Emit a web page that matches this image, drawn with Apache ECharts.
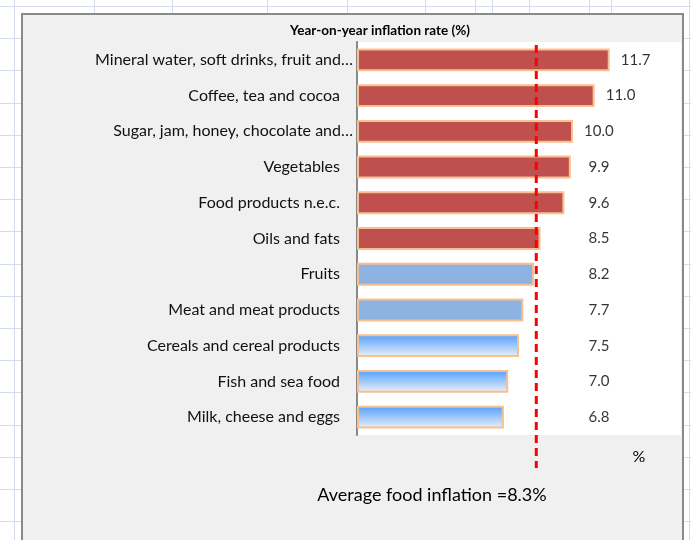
<!DOCTYPE html>
<html>
<head>
<meta charset="utf-8">
<script src="https://cdn.jsdelivr.net/npm/echarts@6/dist/echarts.min.js"></script>
<style>
html,body{margin:0;padding:0;background:#fff;}
#c{width:691px;height:540px;}
</style>
</head>
<body>
<div id="c"></div>
<script>
// ---- data ----
const categories = [
  "Mineral water, soft drinks, fruit and…",
  "Coffee, tea and cocoa",
  "Sugar, jam, honey, chocolate and…",
  "Vegetables",
  "Food products n.e.c.",
  "Oils and fats",
  "Fruits",
  "Meat and meat products",
  "Cereals and cereal products",
  "Fish and sea food",
  "Milk, cheese and eggs"
];
const values = [11.7, 11.0, 10.0, 9.9, 9.6, 8.5, 8.2, 7.7, 7.5, 7.0, 6.8];
const averageInflation = 8.3;
const chartTitle = "Year-on-year inflation rate (%)";
const unitLabel = "%";
const averageLabel = "Average food inflation =8.3%";

// ---- styles ----
const FONT = "Lato, 'Open Sans', sans-serif";
const RED = "#C0504D";
const FLAT_BLUE = "#8DB3E2";
const GRAD_BLUE = {type:'linear', x:0, y:0, x2:0, y2:1,
  colorStops:[{offset:0,color:'#4f9fff'},{offset:1,color:'#eef1f6'}]};
function barColor(i){
  if (i <= 5) return RED;
  if (i <= 7) return FLAT_BLUE;
  return GRAD_BLUE;
}

const chart = echarts.init(document.getElementById('c'), null, {renderer:'canvas'});

// spreadsheet decoration
const deco = [];
const vx = [14, 94, 172, 267, 347, 425, 475, 492, 529, 589, 611, 689];
vx.forEach(x => deco.push({type:'line', z:-20, shape:{x1:x+0.5, y1:0, x2:x+0.5, y2:540},
  style:{stroke:'#d4dbea', lineWidth:1}}));
for (let y = 6; y < 540; y += 32.2) {
  deco.push({type:'line', z:-20, shape:{x1:0, y1:Math.round(y)+0.5, x2:691, y2:Math.round(y)+0.5},
    style:{stroke:'#d4dbea', lineWidth:1}});
}
deco.push({type:'rect', z:-10, shape:{x:22, y:14, width:661, height:540},
  style:{fill:'#f0f0f0', stroke:'#8a8a8a', lineWidth:2}});
deco.push({type:'text', z:10, x:380, y:31, style:{text:chartTitle, font:"bold 13.5px "+FONT,
  fill:'#000', textAlign:'center', textVerticalAlign:'middle'}});
deco.push({type:'text', z:10, x:639, y:457, style:{text:unitLabel, font:"16px "+FONT,
  fill:'#000', textAlign:'center', textVerticalAlign:'middle'}});
deco.push({type:'text', z:10, x:432, y:495, style:{text:averageLabel, font:"18px "+FONT,
  fill:'#000', textAlign:'center', textVerticalAlign:'middle'}});

const option = {
  backgroundColor: '#ffffff',
  animation: false,
  graphic: deco,
  grid: [
    {left:357, right:10, top:42, bottom:105, show:true, backgroundColor:'#ffffff', borderWidth:0, z:0},
    {left:357, right:10, top:45, bottom:72, show:false}
  ],
  xAxis: [
    {type:'value', gridIndex:0, min:0, max:15, show:false},
    {type:'value', gridIndex:1, min:0, max:15, show:false}
  ],
  yAxis: [
    {type:'category', gridIndex:0, data:categories, inverse:true,
     axisTick:{show:false},
     axisLine:{show:true, lineStyle:{color:'#888', width:2}},
     axisLabel:{
       margin:4, color:'#111', fontFamily:FONT, fontSize:16,
       formatter: v => v.endsWith('…') ? '{t|'+v+'}' : '{p|'+v+'}',
       rich:{ t:{fontFamily:FONT, fontSize:16, color:'#111'},
              p:{fontFamily:FONT, fontSize:16, color:'#111', padding:[0,13,0,0]} }
     }},
    {type:'value', gridIndex:1, min:0, max:1, show:false}
  ],
  series: [
    {type:'bar', xAxisIndex:0, yAxisIndex:0, barWidth:'64%',
     data: values.map((v,i) => ({value:v, itemStyle:{color:barColor(i), borderColor:'#F9C08F', borderWidth:2}})),
     z:2},
    {type:'scatter', xAxisIndex:0, yAxisIndex:0, symbolSize:0, silent:true,
     data: values.map((v,i) => [Math.max(v + 1.2, 11.2), i, v]),
     label:{show:true, position:'inside', color:'#000', fontFamily:FONT, fontSize:15,
       formatter: p => p.data[2].toFixed(1)}, z:3},
    {type:'line', xAxisIndex:1, yAxisIndex:1, symbol:'none', silent:true,
     data: [[averageInflation, 1], [averageInflation, 0]],
     lineStyle:{color:'#ff0000', width:3, type:[8,5]}, z:5}
  ]
};
chart.setOption(option);
</script>
</body>
</html>
